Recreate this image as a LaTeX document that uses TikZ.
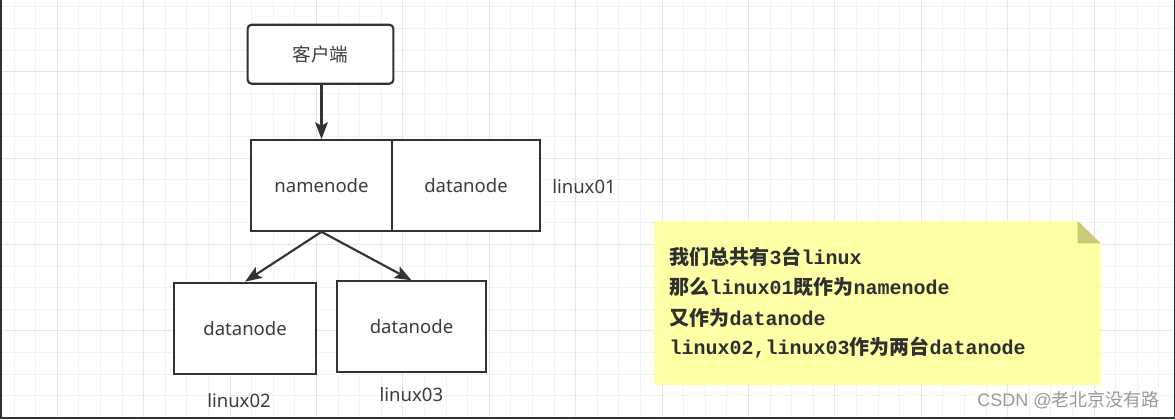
\documentclass[tikz,border=0pt]{standalone}
\usepackage{fontspec}
\setmainfont{Noto Sans}
\newfontfamily\cjkfont{Noto Sans CJK SC}
\newfontfamily\monofnt{Liberation Mono}
\newfontfamily\arialfnt{Liberation Sans}
\usetikzlibrary{arrows.meta}
\definecolor{gridminor}{HTML}{F3F3F3}
\definecolor{gridmajor}{HTML}{E6E6E6}
\definecolor{framecol}{HTML}{2E3236}
\definecolor{linecol}{HTML}{333333}
\definecolor{txtcol}{HTML}{3C3C3C}
\definecolor{notefill}{HTML}{FFFFA6}
\definecolor{notefold}{HTML}{CACA78}
\definecolor{notetext}{HTML}{2F2F2F}
\definecolor{wmcol}{HTML}{9A9A9A}
\newdimen\pxu \pxu=0.75pt
\newcommand\zhs[1]{{\cjkfont\bfseries #1}}
\newcommand\mos[1]{{\monofnt\bfseries #1}}
\tikzset{
  box/.style={draw=linecol, line width=1.6pt, fill=white, inner sep=0pt, text=txtcol,
    font=\fontsize{13.9}{16}\selectfont},
  lbl/.style={text=txtcol, inner sep=0pt, font=\fontsize{13.9}{16}\selectfont},
  arr/.style={draw=linecol, line width=1.6pt, -{Stealth[length=12.5pt,width=9.5pt,inset=2.5pt]}},
  notetxt/.style={anchor=base west, inner sep=0pt, text=notetext, font=\fontsize{15}{18}\selectfont\bfseries},
}
\begin{document}
\begin{tikzpicture}[x=0.75pt,y=-0.75pt]
\useasboundingbox (0,0) rectangle (1175,419);
\fill[white] (0,0) rectangle (1175,419);
% grid
\foreach \i in {0,...,53} \draw[gridminor, line width=0.75pt] ({14.1+21.6*\i},0) -- ++(0,416.5);
\foreach \j in {0,...,18} \draw[gridminor, line width=0.75pt] (2,{6.9+21.6*\j}) -- ++(1171.5,0);
\foreach \i in {2,6,...,50} \draw[gridmajor, line width=0.75pt] ({14.1+21.6*\i},0) -- ++(0,416.5);
\foreach \j in {3,7,11,15} \draw[gridmajor, line width=0.75pt] (2,{6.9+21.6*\j}) -- ++(1171.5,0);
% frame
\fill[framecol] (0,0) rectangle (2,419);
\fill[framecol] (1173.5,0) rectangle (1175,419);
\fill[framecol] (0,416.5) rectangle (1175,419);
% nodes
\node[box, rounded corners=4\pxu, minimum width=145.8\pxu, minimum height=59\pxu] (client) at (320.5,54.2) {\cjkfont 客户端};
\node[box, minimum width=141.6\pxu, minimum height=90.7\pxu] (nn) at (321.5,185.4) {namenode};
\node[box, minimum width=147.3\pxu, minimum height=90.7\pxu] (dn1) at (466,185.4) {datanode};
\node[box, minimum width=142\pxu, minimum height=91.3\pxu] (d2) at (245.1,328.3) {datanode};
\node[box, minimum width=149.4\pxu, minimum height=91\pxu] (d3) at (411.5,326.8) {datanode};
\node[lbl, anchor=west] (l01) at (552,187) {linux01};
\node[lbl] (l02) at (239,400.5) {linux02};
\node[lbl] (l03) at (411.4,395) {linux03};
% connectors
\draw[arr] (client.south -| nn.north) -- (nn.north);
\draw[arr] (nn.south) -- (d2.north);
\draw[arr] (nn.south) -- (d3.north);
% note
\fill[notefill] (654,221) -- (1077.7,221) -- (1100.7,243.3) -- (1100.7,385) -- (654,385) -- cycle;
\fill[notefold] (1077.7,221) -- (1077.7,243.3) -- (1100.7,243.3) -- cycle;
\node[notetxt] (t1) at (669.3,264.3) {\zhs{我们总共有}\mos{3}\zhs{台}\mos{linux}};
\node[notetxt] (t2) at (669.3,294.8) {\zhs{那么}\mos{linux01}\zhs{既作为}\mos{namenode}};
\node[notetxt] (t3) at (669.3,325.2) {\zhs{又作为}\mos{datanode}};
\node[notetxt] (t4) at (669.3,354.8) {\mos{linux02,linux03}\zhs{作为两台}\mos{datanode}};
% watermark
\node[anchor=east, inner sep=0pt, text=wmcol, font=\fontsize{13.5}{16}\selectfont] (wm) at (1160,400.5) {{\arialfnt CSDN @}{\cjkfont 老北京没有路}};
\end{tikzpicture}
\end{document}
